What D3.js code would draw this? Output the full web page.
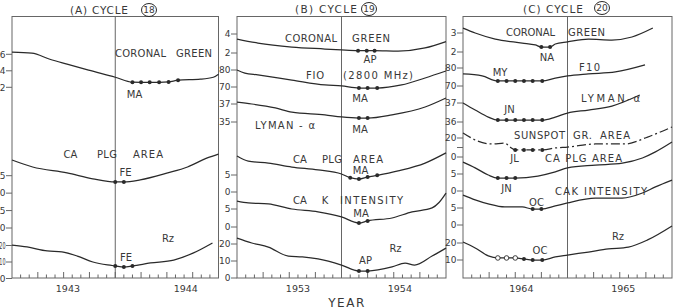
<!DOCTYPE html>
<html><head><meta charset="utf-8">
<script src="https://cdn.jsdelivr.net/npm/d3@7"></script>
<style>
body{margin:0;background:#fff}
svg{display:block}
text{font-family:"DejaVu Sans",sans-serif;fill:#383838}
</style></head><body>
<svg id="c" width="699" height="308"></svg>
<script>
// ================= DATA (month index from start of panel, value) =================
const monthTicks = d3.range(1, 24);
const yearsA = ["1943", "1944"], yearMonthsA = [6.5, 20.2];
const yearsB = ["1953", "1954"], yearMonthsB = [7.0, 18.7];
const yearsC = ["1964", "1965"], yearMonthsC = [6.7, 18.4];
const minimumMonth = 12;

// ---- Cycle 18 ----
const aCoronal = [[0,6.25],[2.3,6.13],[4.4,5.4],[6.4,4.8],[8.9,4.07],[12,3.22],[14,2.62],[15,2.6],[16,2.6],[17.1,2.6],[18.2,2.65],[19.3,2.86],[21.9,2.98],[23.4,3.22],[24,3.59]];
const aCoronalDots = [[14,2.62],[15,2.6],[16,2.6],[17.1,2.6],[18.2,2.65],[19.3,2.86]];
const aCoronalTicks = [6,4,2], aCoronalLabels = ["6","4","2"];
const aPlg = [[0,29.5],[2.4,27.5],[6.4,25.8],[9.4,24.1],[12,23.2],[13,23.2],[14.9,23.8],[18.1,25.8],[20.4,27.5],[22.7,30.1],[24,31.2]];
const aPlgDots = [[12,23.2],[13,23.2]];
const aPlgTicks = [25,20,15,10], aPlgLabels = ["5","0","5","0"];
const aRz = [[0,20.3],[1.75,19.1],[4.1,16.7],[5.8,16.1],[7.6,13.6],[9.4,10],[11.1,8.2],[12,7.6],[13,7.0],[14,7.6],[16.1,9.4],[18.8,11.2],[21.1,15.5],[23.3,21.5]];
const aRzDots = [[12,7.6],[13,7.0],[14,7.6]];
const aRzTicks = [20,10,0], aRzLabels = ["20","10","0"];

// ---- Cycle 19 ----
const bCoronal = [[0,3.47],[2.4,3.05],[6.3,2.63],[10.1,2.42],[12,2.32],[13.9,2.25],[14.9,2.25],[15.8,2.25],[18.5,2.2],[21.6,2.53],[24,3.2]];
const bCoronalDots = [[13.9,2.25],[14.9,2.25],[15.8,2.25]];
const bCoronalTicks = [4,2], bCoronalLabels = ["4","2"];
const bF10 = [[0,80],[0.9,78.2],[2.4,77.1],[6.3,74.1],[10.1,71.2],[12,70.6],[14,69.4],[15,69.4],[16.1,69.4],[18.9,71.2],[21.6,75.3],[24,79.4]];
const bF10Dots = [[14,69.4],[15,69.4],[16.1,69.4]];
const bF10Ticks = [80,70], bF10Labels = ["80","70"];
const bLyman = [[0,37.2],[1.7,37],[4.4,36.56],[6.3,36.1],[10.1,35.8],[12,35.56],[14,35.44],[15,35.44],[17.8,35.8],[21.6,36.67],[24,37.67]];
const bLymanDots = [[14,35.44],[15,35.44]];
const bLymanTicks = [37,35], bLymanLabels = ["37","35"];
const bPlg = [[0,10.6],[1.3,9.1],[3.6,8.5],[6.3,7.35],[9.3,6.5],[12,5.3],[13,4.2],[14,3.8],[15,4.4],[16.1,4.9],[18.5,6.2],[21.6,8.5],[24,11.5]];
const bPlgDots = [[13,4.2],[14,3.8],[15,4.4],[16.1,4.9]];
const bPlgTicks = [5,0], bPlgLabels = ["5","0"];
const bCak = [[0,7.2],[1.3,6.7],[3.6,6.4],[6.3,5],[9.3,4.2],[12,2.8],[14,1.1],[15,1.7],[17.8,2.5],[20.1,4.2],[22.4,5.3],[23.2,6.8],[24,9.4]];
const bCakDots = [[14,1.1],[15,1.7]];
const bCakTicks = [5,0], bCakLabels = ["5","0"];
const bRz = [[0,23.5],[1.7,20.6],[3.6,18.2],[5.9,12.9],[7.5,12.4],[9.3,11.2],[12,7.6],[14,4.1],[15,4.1],[17.8,6.5],[19.3,8.8],[20.4,7.6],[22.4,12.9],[24,17.6]];
const bRzDots = [[14,4.1],[15,4.1]];
const bRzTicks = [20,10,0], bRzLabels = ["20","10","0"];

// ---- Cycle 20 ----
const cCoronal = [[0,3.26],[1.4,3.0],[3.7,2.68],[6.8,2.47],[8.3,2.37],[9,2.26],[10,2.26],[10.6,2.42],[12,2.53],[14.4,2.68],[17.1,2.63],[19.4,2.79],[21.8,3.26]];
const cCoronalDots = [[9,2.26],[10,2.26]];
const cCoronalTicks = [3,2], cCoronalLabels = ["3","2"];
const cF10 = [[0,76.7],[2.2,75.6],[4,72.8],[5,72.8],[6,72.8],[7,72.8],[8,72.8],[9.1,72.8],[10.6,74.4],[12,75.6],[14.4,76.7],[17.5,77.8],[20.9,81.7]];
const cF10Dots = [[4,72.8],[5,72.8],[6,72.8],[7,72.8],[8,72.8],[9.1,72.8]];
const cF10Ticks = [80,70], cF10Labels = ["80","70"];
const cLyman = [[0,37],[1.4,36.63],[2.9,36.26],[4,36.1],[5,36.1],[6,36.1],[7,36.1],[8,36.1],[9.1,36.1],[10.6,36.26],[12,36.47],[14.4,36.63],[17.1,36.84],[20.3,37.42]];
const cLymanDots = [[4,36.1],[5,36.1],[6,36.1],[7,36.1],[8,36.1],[9.1,36.1]];
const cLymanTicks = [37,36], cLymanLabels = ["37","36"];
const cSunspot = [[0,25.3],[1.7,16.8],[3.3,13.7],[4.8,14.7],[5.4,10.5],[6,7.4],[7,7.4],[8,7.4],[9.1,7.4],[10.6,9.5],[12,10.5],[15.2,13.7],[18.6,13.7],[21.2,21],[24,31.6]];
const cSunspotDots = [[6,7.4],[7,7.4],[8,7.4],[9.1,7.4]];
const cSunspotTicks = [20,10], cSunspotLabels = ["20",""];
const cPlg = [[0,8.5],[1.4,6.8],[2.9,4.7],[4,3.8],[5,3.8],[6,3.8],[8.6,4.4],[10.6,5.6],[12,6.8],[15.2,7.6],[18.3,8.2],[20.6,9.7],[22.1,11.5],[24,14.4]];
const cPlgDots = [[4,3.8],[5,3.8],[6,3.8]];
const cPlgTicks = [10,5], cPlgLabels = ["0","5"];
const cCak = [[0,8.8],[1.4,7.4],[2.9,6.2],[4.8,5.3],[6.8,5.3],[8,4.7],[9,4.7],[10.6,5.6],[12,6.5],[15.2,7.9],[18.3,7.9],[20.6,9.4],[22.1,11.2],[24,13.2]];
const cCakDots = [[8,4.7],[9,4.7]];
const cCakTicks = [10,5,0], cCakLabels = ["0","5","0"];
const cRz = [[0,20.6],[1.4,17.1],[2.9,12.4],[4,11.2],[5,11.2],[6,11.2],[7,10.6],[8,10],[9.1,10],[10.6,11.8],[12,12.9],[14.4,14.7],[16.7,16.5],[19,17.6],[21.2,21.8],[24,30]];
const cRzOpen = [[4,11.2],[5,11.2],[6,11.2]];
const cRzDots = [[7,10.6],[8,10],[9.1,10]];
const cRzTicks = [20,10], cRzLabels = ["20","10"];

// ================= LAYOUT =================
const TOP = 16.5, BOTTOM = 278;
const panels = [
  {x0:12, x1:218.5, years:yearsA, yearMonths:yearMonthsA, title:"(A) CYCLE", num:"18", tx:70, ty:14, tw:58, cx:149, cy:10, squeeze:true,
   curves:[
    {data:aCoronal, dots:aCoronalDots, ticks:aCoronalTicks, labels:aCoronalLabels, map:[[2,87.3],[6,54.3]]},
    {data:aPlg, dots:aPlgDots, ticks:aPlgTicks, labels:aPlgLabels, map:[[25,175.7],[10,228]]},
    {data:aRz, dots:aRzDots, ticks:aRzTicks, labels:aRzLabels, map:[[0,278.5],[20,245.5]]}
   ],
   notes:[["CORONAL",115,57,51],["GREEN",176,57,36],["MA",127,98,15],["CA",63,158,15],["PLG",97,158,20],["AREA",133,158,30],["FE",119,176,13],["Rz",162,242,12],["FE",120,261,12]]},
  {x0:237, x1:446, years:yearsB, yearMonths:yearMonthsB, title:"(B) CYCLE", num:"19", tx:295, ty:13.3, tw:62, cx:369, cy:9,
   curves:[
    {data:bCoronal, dots:bCoronalDots, ticks:bCoronalTicks, labels:bCoronalLabels, map:[[4,34],[2,53]]},
    {data:bF10, dots:bF10Dots, ticks:bF10Ticks, labels:bF10Labels, map:[[80,70],[70,87]]},
    {data:bLyman, dots:bLymanDots, ticks:bLymanTicks, labels:bLymanLabels, map:[[37,104],[35,122]]},
    {data:bPlg, dots:bPlgDots, ticks:bPlgTicks, labels:bPlgLabels, map:[[5,175],[0,192]]},
    {data:bCak, dots:bCakDots, ticks:bCakTicks, labels:bCakLabels, map:[[5,209],[0,227]]},
    {data:bRz, dots:bRzDots, ticks:bRzTicks, labels:bRzLabels, map:[[0,278],[20,244]]}
   ],
   notes:[["CORONAL",285,42,52],["GREEN",352,42,38],["AP",363,63,14],["FIO",306,79,18],["(2800 MHz)",343,79,70],["MA",352,102,16],["LYMAN - α",255,129,60],["MA",352,133,16],
          ["CA",293,163,14],["PLG",322,163,20],["AREA",353,163,30],["MA",353,174,15],["CA",293,204,14],["K",322,204,6],["INTENSITY",340,204,63],["MA",353,217,16],["Rz",390,252,11],["AP",358,264,15]]},
  {x0:463, x1:672, years:yearsC, yearMonths:yearMonthsC, title:"(C) CYCLE", num:"20", tx:523, ty:12.7, tw:60, cx:602, cy:8,
   curves:[
    {data:cCoronal, dots:cCoronalDots, ticks:cCoronalTicks, labels:cCoronalLabels, map:[[3,33],[2,52]]},
    {data:cF10, dots:cF10Dots, ticks:cF10Ticks, labels:cF10Labels, map:[[80,68],[70,86]]},
    {data:cLyman, dots:cLymanDots, ticks:cLymanTicks, labels:cLymanLabels, map:[[37,103],[36,122]]},
    {data:cSunspot, dots:cSunspotDots, ticks:cSunspotTicks, labels:cSunspotLabels, map:[[20,138],[10,147.5]], dash:"9,3,2,3"},
    {data:cPlg, dots:cPlgDots, ticks:cPlgTicks, labels:cPlgLabels, map:[[10,157],[5,174]]},
    {data:cCak, dots:cCakDots, ticks:cCakTicks, labels:cCakLabels, map:[[10,191],[5,208]]},
    {data:cRz, dots:cRzDots, open:cRzOpen, ticks:cRzTicks, labels:cRzLabels, map:[[20,243],[10,260]]}
   ],
   notes:[["CORONAL",506,36,49],["GREEN",568,36,37],["NA",540,61,14],["MY",492,76,16],["F10",579,71,21],["LYMAN-α",581,102,59],["JN",502,113,15],
          ["SUNSPOT",514,139,51],["GR.",573,139,19],["AREA",600,139,30],["JL",508,162,13],["CA PLG AREA",545,162,77],["JN",499,192,15],
          ["CAK INTENSITY",555,195,92],["OC",529,206,15],["Rz",612,240,12],["OC",533,254,14]]}
];

// ================= DRAW =================
const svg = d3.select("#c");
const ink = "#2a2a2a", frameInk = "#666";

panels.forEach(p => {
  const x = d3.scaleLinear().domain([0, 24]).range([p.x0, p.x1]);
  const g = svg.append("g");

  g.append("rect").attr("x", p.x0).attr("y", TOP).attr("width", p.x1 - p.x0).attr("height", BOTTOM - TOP)
    .attr("fill", "none").attr("stroke", frameInk).attr("stroke-width", 1);
  g.append("line").attr("x1", x(minimumMonth)).attr("x2", x(minimumMonth)).attr("y1", TOP).attr("y2", BOTTOM)
    .attr("stroke", frameInk).attr("stroke-width", 1);

  g.selectAll(".mt").data(monthTicks).join("line")
    .attr("x1", d => x(d)).attr("x2", d => x(d))
    .attr("y1", BOTTOM).attr("y2", d => BOTTOM - (d % 3 === 0 ? 6 : 3.5))
    .attr("stroke", frameInk).attr("stroke-width", 1);
  g.selectAll(".yl").data(p.years).join("text")
    .attr("x", (d, i) => x(p.yearMonths[i])).attr("y", 292)
    .attr("text-anchor", "middle").attr("font-size", 9.5).text(d => d);

  g.append("text").attr("x", p.tx).attr("y", p.ty).attr("font-size", 10.5)
    .attr("textLength", p.tw).attr("lengthAdjust", "spacing").text(p.title);
  g.append("ellipse").attr("cx", p.cx).attr("cy", p.cy).attr("rx", 7.5).attr("ry", 6.5)
    .attr("fill", "none").attr("stroke", ink).attr("stroke-width", 1);
  g.append("text").attr("x", p.cx).attr("y", p.cy + 3.3).attr("text-anchor", "middle")
    .attr("font-size", 9).text(p.num);

  p.curves.forEach(c => {
    const y = d3.scaleLinear().domain([c.map[0][0], c.map[1][0]]).range([c.map[0][1], c.map[1][1]]);
    const line = d3.line().x(d => x(d[0])).y(d => y(d[1])).curve(d3.curveMonotoneX);
    g.append("path").datum(c.data).attr("d", line).attr("fill", "none")
      .attr("stroke", ink).attr("stroke-width", 1.25)
      .attr("stroke-dasharray", c.dash || null);
    g.selectAll(null).data(c.dots).join("circle")
      .attr("cx", d => x(d[0])).attr("cy", d => y(d[1])).attr("r", 2).attr("fill", ink);
    if (c.open) {
      g.selectAll(null).data(c.open).join("circle")
        .attr("cx", d => x(d[0])).attr("cy", d => y(d[1])).attr("r", 2.3)
        .attr("fill", "#fff").attr("stroke", ink).attr("stroke-width", 0.9);
    }
    g.selectAll(null).data(c.ticks).join("line")
      .attr("x1", p.x0 - 6).attr("x2", p.x0).attr("y1", d => y(d)).attr("y2", d => y(d))
      .attr("stroke", frameInk).attr("stroke-width", 1);
    const tl = g.selectAll(null).data(c.ticks).join("text")
      .attr("x", p.x0 - 6.5).attr("y", d => y(d) + 3.3).attr("text-anchor", "end")
      .attr("font-size", 9).text((d, i) => c.labels[i]);
    if (p.squeeze) {
      // first panel sits at the page edge: squeeze two-digit labels so they stay visible
      tl.filter((d, i) => c.labels[i].length > 1)
        .attr("textLength", 6.2).attr("lengthAdjust", "spacingAndGlyphs");
    }
  });

  // annotations
  const notes = g.selectAll(null).data(p.notes).join("text")
    .attr("y", d => d[2]).attr("font-size", 10)
    .style("white-space", "pre").text(d => d[0]);
  notes.filter(d => d[0].length > 2)
    .attr("x", d => d[1]).attr("textLength", d => d[3]).attr("lengthAdjust", "spacing");
  notes.filter(d => d[0].length <= 2)
    .attr("x", d => d[1] + d[3] / 2).attr("text-anchor", "middle");
});

svg.append("text").attr("x", 347).attr("y", 306.5).attr("text-anchor", "middle")
  .attr("font-size", 12).attr("letter-spacing", 1.5).text("YEAR");
</script>
</body></html>
